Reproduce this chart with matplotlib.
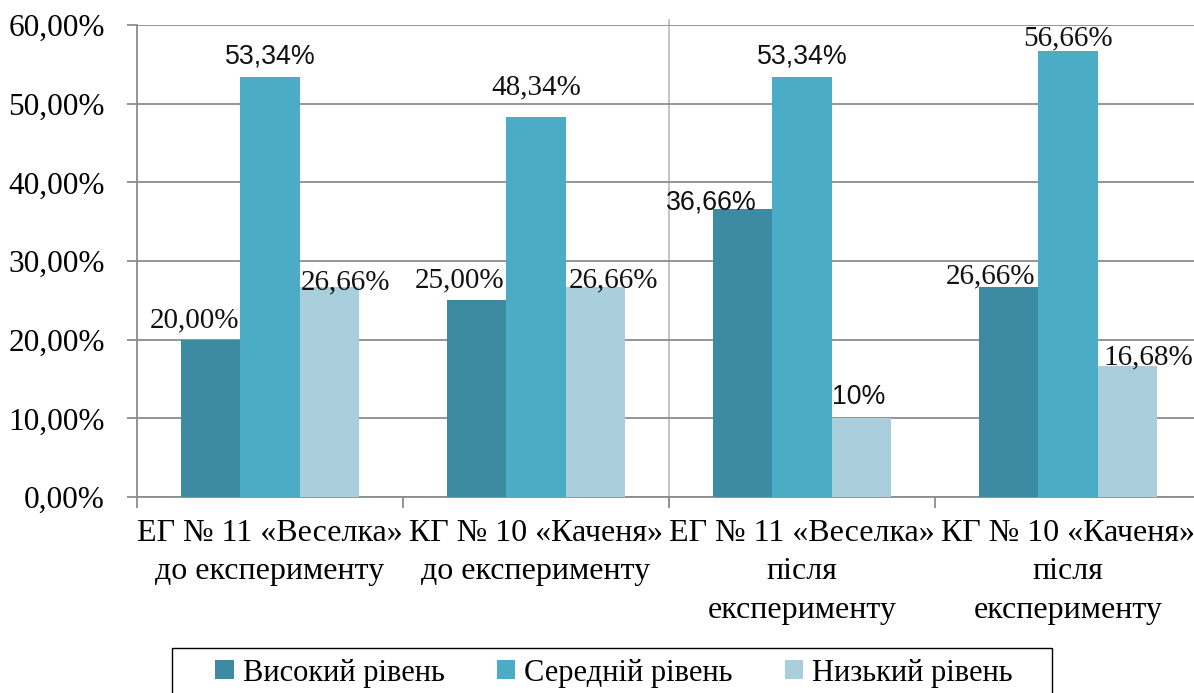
import numpy as np
import matplotlib
matplotlib.use('Agg')
import matplotlib.pyplot as plt
from matplotlib.patches import Rectangle

# data
groups = ['ЕГ № 11 «Веселка»\nдо експерименту',
          'КГ № 10 «Каченя»\nдо експерименту',
          'ЕГ № 11 «Веселка»\nпісля\nексперименту',
          'КГ № 10 «Каченя»\nпісля\nексперименту']
series = ['Високий рівень', 'Середній рівень', 'Низький рівень']
high = [20.00, 25.00, 36.66, 26.66]
mid = [53.34, 48.34, 53.34, 56.66]
low = [26.66, 26.66, 10.00, 16.68]
labels_high = ['20,00%', '25,00%', '36,66%', '26,66%']
labels_mid = ['53,34%', '48,34%', '53,34%', '56,66%']
labels_low = ['26,66%', '26,66%', '10%', '16,68%']

# label styling: font family and offset (dx, dy) from the bar top
lab_high_style = [('serif', -0.06, 2.4), ('serif', -0.064, 2.6), ('sans', -0.12, 0.8), ('serif', -0.07, 1.4)]
lab_mid_style = [('sans', 0, 2.6), ('serif', 0, 3.7), ('sans', 0, 2.6), ('serif', 0, 1.6)]
lab_low_style = [('serif', 0.06, 0.6), ('serif', 0.07, 0.9), ('sans', -0.01, 2.7), ('serif', 0.08, 1.1)]

colors = ['#3D8BA3', '#4BACC6', '#A9CEDC']
SERIF = 'Liberation Serif'
SANS = 'Liberation Sans'
GRID = '#8C8C8C'

fig = plt.figure(figsize=(11.94, 6.93), dpi=100)
ax = fig.add_axes([137 / 1194, 196 / 693, 1064 / 1194, 472 / 693])

x = np.arange(len(groups))
w = 0.222
for k, (vals, col, name) in enumerate(zip([high, mid, low], colors, series)):
    ax.bar(x + (k - 1) * w, vals, width=w, color=col, label=name, linewidth=0, zorder=3)

fonts = {'serif': SERIF, 'sans': SANS}
for k, (vals, labs, styles) in enumerate(zip([high, mid, low],
                                             [labels_high, labels_mid, labels_low],
                                             [lab_high_style, lab_mid_style, lab_low_style])):
    for i in range(len(groups)):
        fam, dx, dy = styles[i]
        ax.text(x[i] + (k - 1) * w + dx, vals[i] + dy, labs[i], ha='center', va='center',
                fontsize=19.3 if fam == 'sans' else 21, family=fonts[fam], color='#111111', zorder=5)

ax.set_xlim(-0.5, 3.5)
ax.set_ylim(0, 60)
ax.set_yticks(np.arange(0, 61, 10))
ax.set_yticklabels([f'{v},00%' for v in range(0, 61, 10)], family=SERIF, fontsize=22.5)
ax.yaxis.grid(True, color=GRID, linewidth=1.3, zorder=0)
ax.tick_params(axis='y', length=7, color=GRID, width=1.3, pad=16)

ax.set_xticks(x)
ax.set_xticklabels(groups, family=SERIF, fontsize=23, linespacing=1.42)
ax.set_xticks(np.arange(-0.5, 4, 1), minor=True)
ax.tick_params(axis='x', which='major', length=0, pad=16)
ax.tick_params(axis='x', which='minor', length=8, color=GRID, width=1.3)

# divider between "before" and "after" groups
ax.axvline(1.5, ymin=-0.02, ymax=1.01, color='#BFBFBF', linewidth=1.3, zorder=1, clip_on=False)

for s in ['top', 'right']:
    ax.spines[s].set_visible(False)
for s in ['left', 'bottom']:
    ax.spines[s].set_color(GRID)
    ax.spines[s].set_linewidth(1.3)

# legend with a wider frame than matplotlib would draw
fig.legend(loc='center', bbox_to_anchor=(614 / 1194, 1 - 673 / 693), ncol=3,
           prop={'family': SERIF, 'size': 22}, frameon=False,
           handlelength=0.6, handleheight=0.6, handletextpad=0.3,
           columnspacing=1.7, borderpad=0, borderaxespad=0)
fig.patches.append(Rectangle((172 / 1194, -0.05), 880 / 1194, 45 / 693 + 0.05,
                             transform=fig.transFigure, fill=False, edgecolor='black', linewidth=1.0))

fig.savefig('out.png', dpi=100)
